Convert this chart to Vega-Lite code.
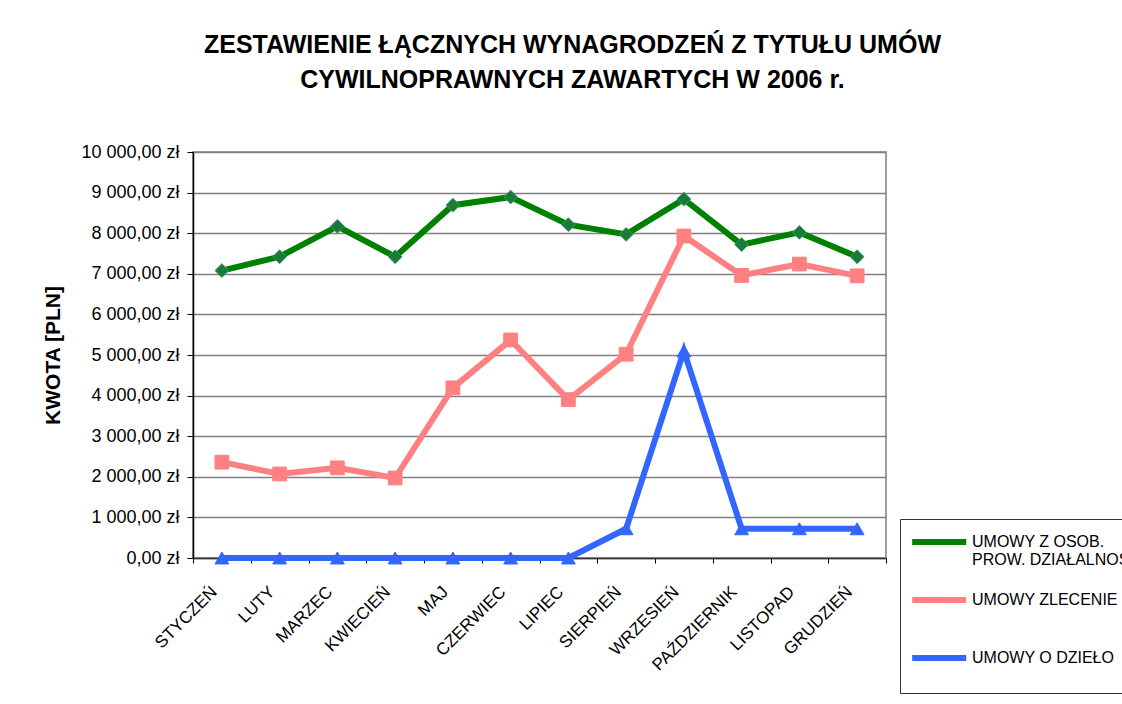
{
  "$schema": "https://vega.github.io/schema/vega-lite/v6.json",
  "autosize": "none",
  "width": 693,
  "height": 406,
  "padding": {"left": 193, "top": 152, "right": 236, "bottom": 146},
  "background": "white",
  "title": {
    "text": ["ZESTAWIENIE ŁĄCZNYCH WYNAGRODZEŃ Z TYTUŁU UMÓW", "CYWILNOPRAWNYCH ZAWARTYCH W 2006 r."],
    "font": "Liberation Sans",
    "fontSize": 25,
    "fontWeight": "bold",
    "color": "black",
    "anchor": "middle",
    "frame": "group",
    "dx": 33,
    "lineHeight": 35,
    "offset": 50
  },
  "data": {"values": [
    {"month": "STYCZEŃ", "series": "UMOWY Z OSOB. PROW. DZIAŁALNOŚCI", "value": 7080},
    {"month": "LUTY", "series": "UMOWY Z OSOB. PROW. DZIAŁALNOŚCI", "value": 7420},
    {"month": "MARZEC", "series": "UMOWY Z OSOB. PROW. DZIAŁALNOŚCI", "value": 8170},
    {"month": "KWIECIEŃ", "series": "UMOWY Z OSOB. PROW. DZIAŁALNOŚCI", "value": 7420},
    {"month": "MAJ", "series": "UMOWY Z OSOB. PROW. DZIAŁALNOŚCI", "value": 8690},
    {"month": "CZERWIEC", "series": "UMOWY Z OSOB. PROW. DZIAŁALNOŚCI", "value": 8890},
    {"month": "LIPIEC", "series": "UMOWY Z OSOB. PROW. DZIAŁALNOŚCI", "value": 8210},
    {"month": "SIERPIEŃ", "series": "UMOWY Z OSOB. PROW. DZIAŁALNOŚCI", "value": 7970},
    {"month": "WRZESIEŃ", "series": "UMOWY Z OSOB. PROW. DZIAŁALNOŚCI", "value": 8840},
    {"month": "PAŹDZIERNIK", "series": "UMOWY Z OSOB. PROW. DZIAŁALNOŚCI", "value": 7720},
    {"month": "LISTOPAD", "series": "UMOWY Z OSOB. PROW. DZIAŁALNOŚCI", "value": 8020},
    {"month": "GRUDZIEŃ", "series": "UMOWY Z OSOB. PROW. DZIAŁALNOŚCI", "value": 7420},
    {"month": "STYCZEŃ", "series": "UMOWY ZLECENIE", "value": 2360},
    {"month": "LUTY", "series": "UMOWY ZLECENIE", "value": 2070},
    {"month": "MARZEC", "series": "UMOWY ZLECENIE", "value": 2220},
    {"month": "KWIECIEŃ", "series": "UMOWY ZLECENIE", "value": 1970},
    {"month": "MAJ", "series": "UMOWY ZLECENIE", "value": 4190},
    {"month": "CZERWIEC", "series": "UMOWY ZLECENIE", "value": 5370},
    {"month": "LIPIEC", "series": "UMOWY ZLECENIE", "value": 3900},
    {"month": "SIERPIEŃ", "series": "UMOWY ZLECENIE", "value": 5020},
    {"month": "WRZESIEŃ", "series": "UMOWY ZLECENIE", "value": 7930},
    {"month": "PAŹDZIERNIK", "series": "UMOWY ZLECENIE", "value": 6960},
    {"month": "LISTOPAD", "series": "UMOWY ZLECENIE", "value": 7240},
    {"month": "GRUDZIEŃ", "series": "UMOWY ZLECENIE", "value": 6950},
    {"month": "STYCZEŃ", "series": "UMOWY O DZIEŁO", "value": 0},
    {"month": "LUTY", "series": "UMOWY O DZIEŁO", "value": 0},
    {"month": "MARZEC", "series": "UMOWY O DZIEŁO", "value": 0},
    {"month": "KWIECIEŃ", "series": "UMOWY O DZIEŁO", "value": 0},
    {"month": "MAJ", "series": "UMOWY O DZIEŁO", "value": 0},
    {"month": "CZERWIEC", "series": "UMOWY O DZIEŁO", "value": 0},
    {"month": "LIPIEC", "series": "UMOWY O DZIEŁO", "value": 0},
    {"month": "SIERPIEŃ", "series": "UMOWY O DZIEŁO", "value": 720},
    {"month": "WRZESIEŃ", "series": "UMOWY O DZIEŁO", "value": 5100},
    {"month": "PAŹDZIERNIK", "series": "UMOWY O DZIEŁO", "value": 720},
    {"month": "LISTOPAD", "series": "UMOWY O DZIEŁO", "value": 720},
    {"month": "GRUDZIEŃ", "series": "UMOWY O DZIEŁO", "value": 720}
  ]},
  "encoding": {
    "x": {
      "field": "month", "type": "ordinal",
      "sort": ["STYCZEŃ","LUTY","MARZEC","KWIECIEŃ","MAJ","CZERWIEC","LIPIEC","SIERPIEŃ","WRZESIEŃ","PAŹDZIERNIK","LISTOPAD","GRUDZIEŃ"],
      "scale": {"type": "band", "paddingInner": 0, "paddingOuter": 0},
      "axis": {
        "title": null,
        "labelAngle": -45,
        "labelAlign": "right",
        "labelBaseline": "middle",
        "labelPadding": 26,
        "labelOffset": -8,
        "labelFont": "Liberation Sans",
        "labelFontSize": 17,
        "labelColor": "black",
        "tickBand": "extent",
        "tickSize": 5,
        "tickColor": "black",
        "domainColor": "#333333",
        "domainWidth": 1.5,
        "grid": false
      }
    },
    "y": {
      "field": "value", "type": "quantitative",
      "scale": {"domain": [0, 10000], "nice": false},
      "axis": {
        "title": "KWOTA [PLN]",
        "titleFont": "Liberation Sans",
        "titleFontSize": 21,
        "titleFontWeight": "bold",
        "titleColor": "black",
        "titlePadding": 17,
        "values": [0,1000,2000,3000,4000,5000,6000,7000,8000,9000,10000],
        "labelExpr": "replace(replace(format(datum.value, ',.2f'), ',', ' '), '.', ',') + ' zł'",
        "labelFont": "Liberation Sans",
        "labelFontSize": 18,
        "labelColor": "black",
        "labelPadding": 8,
        "tickSize": 6,
        "tickColor": "black",
        "domainColor": "black",
        "domainWidth": 1.5,
        "grid": true,
        "gridColor": "#808080",
        "gridWidth": 1.5
      }
    }
  },
  "layer": [
    {
      "mark": {"type": "line", "strokeWidth": 6},
      "encoding": {
        "color": {
          "field": "series", "type": "nominal",
          "scale": {
            "domain": ["UMOWY Z OSOB. PROW. DZIAŁALNOŚCI", "UMOWY ZLECENIE", "UMOWY O DZIEŁO"],
            "range": ["#008000", "#FF8080", "#3366FF"]
          },
          "legend": {
            "title": null,
            "orient": "none",
            "legendX": 707,
            "legendY": 367,
            "direction": "vertical",
            "strokeColor": "#333333",
            "padding": 9,
            "symbolType": "M-1,0H4",
            "symbolSize": 467,
            "symbolStrokeWidth": 6,
            "labelFont": "Liberation Sans",
            "labelFontSize": 16,
            "labelColor": "black",
            "labelLimit": 400,
            "labelOffset": 35,
            "rowPadding": 18,
            "labelExpr": "datum.label == 'UMOWY Z OSOB. PROW. DZIAŁALNOŚCI' ? ['UMOWY Z OSOB.', 'PROW. DZIAŁALNOŚCI'] : [datum.label, '']"
          }
        }
      }
    },
    {
      "mark": {"type": "point", "filled": true, "size": 190, "opacity": 1, "strokeWidth": 1},
      "encoding": {
        "fill": {
          "condition": [
            {"test": "datum.series == 'UMOWY ZLECENIE'", "value": "#FF8080"},
            {"test": "datum.series == 'UMOWY O DZIEŁO'", "value": "#3366FF"}
          ],
          "value": "#1a7a3a"
        },
        "stroke": {
          "condition": [
            {"test": "datum.series == 'UMOWY ZLECENIE'", "value": "#FF8080"},
            {"test": "datum.series == 'UMOWY O DZIEŁO'", "value": "#3366FF"}
          ],
          "value": "#3a9a6a"
        },
        "shape": {
          "condition": [
            {"test": "datum.series == 'UMOWY ZLECENIE'", "value": "square"},
            {"test": "datum.series == 'UMOWY O DZIEŁO'", "value": "triangle-up"}
          ],
          "value": "diamond"
        }
      }
    }
  ],
  "config": {
    "view": {"stroke": "#808080", "strokeWidth": 1.5},
    "font": "Liberation Sans"
  }
}
